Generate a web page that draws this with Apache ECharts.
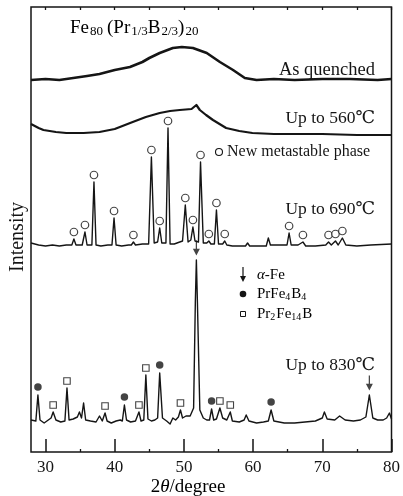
<!DOCTYPE html>
<html>
<head>
<meta charset="utf-8">
<script src="https://cdn.jsdelivr.net/npm/echarts@6/dist/echarts.min.js"></script>
<style>
  html, body { margin: 0; padding: 0; background: #fff; }
  #chart { width: 403px; height: 496px; }
</style>
</head>
<body>
<div id="chart"></div>
<script>
// XRD patterns of Fe80(Pr1/3B2/3)20, stacked with vertical offsets (arbitrary units).
// Each point: [2theta, intensity, phase tag]; tag: o = new metastable phase,
// f = PrFe4B4, s = Pr2Fe14B, a = alpha-Fe.

const xTickLabels = [30, 40, 50, 60, 70, 80];
const xMinorTicks = [35, 45, 55, 65, 75];
const xTopTicks = [30, 35, 40, 45, 50, 55, 60, 65, 70, 75, 80];

const asQuenched = [
  [27.9, 372], [30.0, 373], [32.0, 372], [34.0, 374], [36.0, 376], [37.8, 378],
  [40.0, 382], [42.2, 385], [44.0, 390], [45.0, 394], [46.5, 399], [48.4, 404],
  [49.7, 405], [51.3, 404], [52.5, 401], [53.3, 399], [55.2, 390], [57.1, 382],
  [58.8, 374], [60.5, 372], [63.0, 373], [66.0, 372], [70.0, 373], [74.0, 373],
  [78.0, 372], [80.0, 373]
];

const upTo560 = [
  [27.9, 328], [29.0, 324], [29.7, 322], [31.5, 320], [33.0, 319], [35.5, 319],
  [37.8, 320], [40.0, 323], [42.6, 330], [44.5, 335], [46.5, 339], [48.0, 341],
  [49.4, 342], [51.1, 343], [51.8, 347], [52.3, 342], [53.2, 337], [54.2, 332],
  [56.1, 324], [58.0, 321], [59.9, 319], [63.0, 318], [66.7, 318], [70.0, 318],
  [75.0, 317], [80.0, 317]
];

const upTo690 = [
  [27.9, 209], [29.0, 207], [30.0, 206], [31.0, 207], [32.0, 206], [33.0, 207],
  [33.8, 207], [34.1, 213, 'o'], [34.4, 207], [35.3, 207], [35.7, 220, 'o'], [36.0, 207],
  [36.7, 207], [37.0, 270, 'o'], [37.3, 207], [38.0, 206], [39.0, 207], [39.6, 207],
  [39.9, 234, 'o'], [40.2, 207], [41.0, 206], [42.0, 207], [42.4, 207], [42.7, 210, 'o'],
  [43.0, 207], [44.0, 208], [44.9, 208], [45.3, 295, 'o'], [45.7, 209], [46.2, 210],
  [46.5, 224, 'o'], [46.8, 209], [47.4, 209], [47.7, 324, 'o'], [48.0, 208], [48.6, 208],
  [49.0, 209], [49.8, 211], [50.2, 247, 'o'], [50.6, 210], [51.0, 212], [51.3, 225, 'o'],
  [51.6, 211], [52.1, 210], [52.4, 290, 'o'], [52.8, 209], [53.3, 209], [53.6, 211, 'o'],
  [53.9, 208], [54.4, 208], [54.7, 242, 'o'], [55.0, 208], [55.6, 208], [55.9, 211, 'o'],
  [56.2, 207], [57.0, 206], [58.0, 206], [58.9, 206], [59.2, 209], [59.5, 206],
  [61.0, 206], [61.9, 206], [62.2, 214], [62.5, 207], [64.0, 207], [64.9, 207],
  [65.2, 219, 'o'], [65.5, 207], [66.5, 207], [67.2, 210, 'o'], [67.6, 206], [69.0, 206],
  [70.5, 207], [70.9, 210, 'o'], [71.3, 207], [71.9, 211, 'o'], [72.3, 207], [72.9, 214, 'o'],
  [73.4, 207], [75.0, 206], [77.0, 207], [80.0, 208]
];

const upTo830 = [
  [27.9, 32], [28.6, 31], [28.9, 57, 'f'], [29.2, 32], [29.8, 29], [30.4, 32],
  [30.8, 34], [31.1, 40, 's'], [31.5, 32], [32.2, 30], [32.8, 31], [33.1, 64, 's'],
  [33.4, 32], [34.0, 33], [34.6, 35], [34.9, 40], [35.2, 34], [35.5, 49], [35.8, 32],
  [36.5, 31], [37.3, 30], [37.8, 36], [38.2, 31], [38.6, 39, 's'], [38.9, 31],
  [39.5, 29], [40.2, 31], [40.8, 32], [41.1, 31], [41.4, 47, 'f'], [41.7, 32],
  [42.3, 30], [43.0, 31], [43.5, 40, 's'], [43.8, 31], [44.2, 32], [44.5, 77, 's'],
  [44.8, 33], [45.3, 31], [45.8, 32], [46.2, 34], [46.5, 79, 'f'], [46.9, 34],
  [47.5, 31], [48.0, 28], [48.4, 34], [48.8, 32], [49.2, 35], [49.5, 42, 's'],
  [49.8, 34], [50.3, 36], [50.9, 36], [51.4, 44], [51.65, 150], [51.8, 192, 'a'],
  [51.95, 150], [52.3, 42], [52.8, 34], [53.3, 32], [53.7, 32], [54.0, 43, 'f'],
  [54.3, 32], [54.7, 33], [55.2, 44, 's'], [55.6, 34], [56.2, 32], [56.7, 40, 's'],
  [57.0, 31], [58.0, 30], [58.7, 32], [59.0, 37], [59.4, 31], [60.5, 29],
  [61.5, 30], [62.2, 31], [62.6, 42, 'f'], [63.0, 31], [64.5, 29], [66.0, 29],
  [67.5, 30], [69.0, 31], [70.0, 34], [70.3, 40], [70.7, 33], [71.8, 32],
  [72.5, 36], [73.3, 32], [74.5, 31], [75.5, 32], [76.3, 35], [76.8, 57, 'a'],
  [77.3, 34], [78.0, 32], [78.8, 32], [79.3, 34], [79.7, 39], [80.0, 33]
];

const INK = '#151515';
const SERIF = '"Liberation Serif", "DejaVu Serif", "Noto Serif", serif';

const ARROW = 'path://M4.3 0 L5.7 0 L5.7 10 L9 10 L5 18 L1 10 L4.3 10 Z';
const markerStyles = {
  o: { symbol: 'circle', symbolSize: 7.5, symbolOffset: [0, -7], itemStyle: { color: '#fff', borderColor: INK, borderWidth: 1.2 } },
  f: { symbol: 'circle', symbolSize: 7.5, symbolOffset: [0, -8], itemStyle: { color: INK, borderWidth: 0 } },
  s: { symbol: 'rect', symbolSize: 6.5, symbolOffset: [0, -7], itemStyle: { color: '#fff', borderColor: INK, borderWidth: 1.1 } },
  a: { symbol: ARROW, symbolSize: [7, 15], symbolOffset: [0, -12], itemStyle: { color: INK, borderWidth: 0 } }
};

function lineSeries(trace, width) {
  return {
    type: 'line',
    data: trace.map(p => [p[0], p[1]]),
    showSymbol: false,
    symbol: 'none',
    lineStyle: { color: INK, width: width, join: 'round' },
    silent: true,
    z: 2
  };
}

function markerSeries(trace, tag) {
  const pts = trace.filter(p => p[2] === tag).map(p => [p[0], p[1]]);
  return Object.assign({ type: 'scatter', data: pts, silent: true, z: 3 }, markerStyles[tag]);
}

const series = [
  lineSeries(asQuenched, 2.6),
  lineSeries(upTo560, 2.2),
  lineSeries(upTo690, 1.4),
  lineSeries(upTo830, 1.4),
  markerSeries(upTo690, 'o'),
  markerSeries(upTo830, 'f'),
  markerSeries(upTo830, 's'),
  markerSeries(upTo830, 'a')
];

const subRich = {
  n: { fontFamily: SERIF, fontSize: 19, color: INK },
  np: { fontFamily: SERIF, fontSize: 19, color: INK, padding: [0, 0, 0, 4] },
  sub: { fontFamily: SERIF, fontSize: 13, color: INK, padding: [8, 0, 0, 1] },
  i: { fontFamily: SERIF, fontSize: 15, color: INK, fontStyle: 'italic' },
  m: { fontFamily: SERIF, fontSize: 15, color: INK },
  ms: { fontFamily: SERIF, fontSize: 10, color: INK, padding: [6, 1, 0, 0] }
};

function label(x, y, text, size, align) {
  return {
    type: 'text', x: x, y: y, silent: true,
    style: { text: text, fontFamily: SERIF, fontSize: size, fill: INK, align: align || 'left', verticalAlign: 'middle' }
  };
}

function richLabel(x, y, text) {
  return {
    type: 'text', x: x, y: y, silent: true,
    style: { text: text, rich: subRich, align: 'left', verticalAlign: 'middle' }
  };
}

const graphic = [
  richLabel(70, 28, '{n|Fe}{sub|80}{np|(Pr}{sub|1/3}{n|B}{sub|2/3}{n|)}{sub|20}'),
  label(375, 70, 'As quenched', 18.5, 'right'),
  label(375, 118, 'Up to 560℃', 17.5, 'right'),
  label(375, 209, 'Up to 690℃', 17.5, 'right'),
  label(375, 365, 'Up to 830℃', 17.5, 'right'),
  { type: 'circle', shape: { cx: 219, cy: 152, r: 3.5 }, style: { fill: '#fff', stroke: INK, lineWidth: 1.1 }, silent: true },
  label(227, 152, 'New metastable phase', 16, 'left'),
  { type: 'polygon', shape: { points: [[242.4, 267], [243.6, 267], [243.6, 276], [246, 276], [243, 282], [240, 276], [242.4, 276]] }, style: { fill: INK }, silent: true },
  richLabel(257, 275, '{i|α}{m|-Fe}'),
  { type: 'circle', shape: { cx: 243, cy: 294, r: 3.3 }, style: { fill: INK }, silent: true },
  richLabel(257, 294, '{m|PrFe}{ms|4}{m|B}{ms|4}'),
  { type: 'rect', shape: { x: 240.5, y: 311.5, width: 5, height: 5 }, style: { fill: '#fff', stroke: INK, lineWidth: 1 }, silent: true },
  richLabel(257, 314, '{m|Pr}{ms|2}{m|Fe}{ms|14}{m|B}'),
  {
    type: 'text', x: 18, y: 237, rotation: Math.PI / 2, silent: true,
    style: { text: 'Intensity', fontFamily: SERIF, fontSize: 20, fill: INK, align: 'center', verticalAlign: 'middle' }
  },
  {
    type: 'text', x: 188, y: 487, silent: true,
    style: {
      text: '{n|2}{i|θ}{n|/degree}',
      rich: {
        n: { fontFamily: SERIF, fontSize: 19, color: INK },
        i: { fontFamily: SERIF, fontSize: 19, color: INK, fontStyle: 'italic' }
      },
      align: 'center', verticalAlign: 'middle'
    }
  }
];

const chart = echarts.init(document.getElementById('chart'), null, { renderer: 'canvas' });
chart.setOption({
  animation: false,
  backgroundColor: '#fff',
  grid: {
    left: 31, right: 11, top: 7, bottom: 44,
    show: true, borderColor: INK, borderWidth: 1.5, backgroundColor: 'transparent'
  },
  xAxis: [
    {
      type: 'value', min: 27.9, max: 80, position: 'bottom',
      axisLine: { show: false },
      splitLine: { show: false },
      axisTick: { show: true, inside: true, length: 13, customValues: xTickLabels, lineStyle: { color: INK, width: 1.5 } },
      axisLabel: { show: true, customValues: xTickLabels, margin: 7, fontFamily: SERIF, fontSize: 17, color: INK }
    },
    {
      type: 'value', min: 27.9, max: 80, position: 'bottom',
      axisLine: { show: false },
      splitLine: { show: false },
      axisTick: { show: true, inside: true, length: 3, customValues: xMinorTicks, lineStyle: { color: INK, width: 1.3 } },
      axisLabel: { show: false }
    },
    {
      type: 'value', min: 27.9, max: 80, position: 'top',
      axisLine: { show: false },
      splitLine: { show: false },
      axisTick: { show: true, inside: true, length: 3, customValues: xTopTicks, lineStyle: { color: INK, width: 1.3 } },
      axisLabel: { show: false }
    }
  ],
  yAxis: {
    type: 'value', min: 0, max: 445, show: false
  },
  series: series,
  graphic: graphic
});
</script>
</body>
</html>
